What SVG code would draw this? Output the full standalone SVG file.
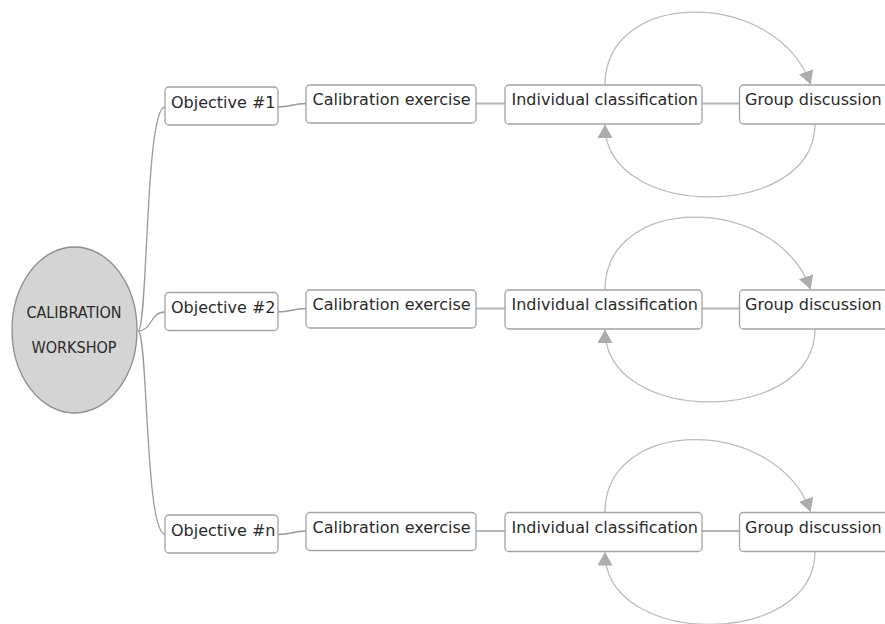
<svg xmlns="http://www.w3.org/2000/svg" width="885" height="624" viewBox="0 0 885 624">
  <style>
    .box { fill: #ffffff; stroke: #a3a3a3; stroke-width: 1.3; }
    .lbl { font-family: "DejaVu Sans", sans-serif; font-size: 16px; fill: #2a2a2a; }
    .root { fill: #d4d4d4; stroke: #8c8c8c; stroke-width: 1.3; }
    .rootlbl { font-family: "DejaVu Sans Condensed", "DejaVu Sans", sans-serif; font-stretch: condensed; font-size: 16px; fill: #2a2a2a; text-anchor: middle; }
    .tree { fill: none; stroke: #9a9a9a; stroke-width: 1.3; }
    .link { fill: none; stroke: #b5b5b5; stroke-width: 2; }
    .loop { fill: none; stroke: #bbbbbb; stroke-width: 1.3; }
  </style>
  <defs>
    <marker id="head" markerUnits="userSpaceOnUse" markerWidth="16" markerHeight="16" refX="13" refY="7.5" orient="auto">
      <path d="M0,0 L13.5,7.5 L0,15 Z" fill="#acacac"/>
    </marker>
  </defs>
  <rect width="885" height="624" fill="#ffffff"/>

  <!-- connectors -->
  <g id="connectors">
    <!-- root to objectives -->
    <path class="tree" d="M138,331 C148,331 145,107 165,107"/>
    <path class="tree" d="M138,331 C152,331 150,312 165,312"/>
    <path class="tree" d="M138,331 C148,331 145,534 165,534"/>
    <!-- row 1 -->
    <g>
      <path class="tree" d="M278,107 C292,107 292,103.5 306,103.5"/>
      <path class="link" d="M476,103.5 L505,103.5"/>
      <path class="link" d="M702,103.5 L739.5,103.5"/>
      <path class="loop" d="M605,85 C605,-12 776,-12 810.5,84" marker-end="url(#head)"/>
      <path class="loop" d="M815,124 C815,221 605,221 605,125" marker-end="url(#head)"/>
    </g>
    <!-- row 2 -->
    <g transform="translate(0,205)">
      <path class="tree" d="M278,107 C292,107 292,103.5 306,103.5"/>
      <path class="link" d="M476,103.5 L505,103.5"/>
      <path class="link" d="M702,103.5 L739.5,103.5"/>
      <path class="loop" d="M605,85 C605,-12 776,-12 810.5,84" marker-end="url(#head)"/>
      <path class="loop" d="M815,124 C815,221 605,221 605,125" marker-end="url(#head)"/>
    </g>
    <!-- row 3 -->
    <g transform="translate(0,427.5)">
      <path class="tree" d="M278,107 C292,107 292,103.5 306,103.5"/>
      <path class="link" d="M476,103.5 L505,103.5"/>
      <path class="link" d="M702,103.5 L739.5,103.5"/>
      <path class="loop" d="M605,85 C605,-12 776,-12 810.5,84" marker-end="url(#head)"/>
      <path class="loop" d="M815,124 C815,221 605,221 605,125" marker-end="url(#head)"/>
    </g>
  </g>

  <!-- root node -->
  <g id="workshop">
    <ellipse class="root" cx="74.5" cy="330" rx="62.5" ry="83"/>
    <text class="rootlbl" x="74" y="318">CALIBRATION</text>
    <text class="rootlbl" x="74" y="353">WORKSHOP</text>
  </g>

  <!-- row 1 -->
  <g id="objective-1">
    <rect class="box" x="165" y="87" width="113" height="38" rx="4"/>
    <text class="lbl" x="171" y="107.5">Objective #1</text>
  </g>
  <g id="exercise-1">
    <rect class="box" x="306" y="85" width="170" height="38" rx="4"/>
    <text class="lbl" x="312.5" y="105">Calibration exercise</text>
  </g>
  <g id="classification-1">
    <rect class="box" x="505" y="85" width="197" height="39" rx="4"/>
    <text class="lbl" x="511.5" y="105">Individual classification</text>
  </g>
  <g id="discussion-1">
    <rect class="box" x="739.5" y="85" width="160" height="39" rx="4"/>
    <text class="lbl" x="745" y="105">Group discussion</text>
  </g>

  <!-- row 2 -->
  <g id="objective-2" transform="translate(0,205.5)">
    <rect class="box" x="165" y="87" width="113" height="38" rx="4"/>
    <text class="lbl" x="171" y="107.5">Objective #2</text>
  </g>
  <g id="exercise-2" transform="translate(0,205)">
    <rect class="box" x="306" y="85" width="170" height="38" rx="4"/>
    <text class="lbl" x="312.5" y="105">Calibration exercise</text>
  </g>
  <g id="classification-2" transform="translate(0,205)">
    <rect class="box" x="505" y="85" width="197" height="39" rx="4"/>
    <text class="lbl" x="511.5" y="105">Individual classification</text>
  </g>
  <g id="discussion-2" transform="translate(0,205)">
    <rect class="box" x="739.5" y="85" width="160" height="39" rx="4"/>
    <text class="lbl" x="745" y="105">Group discussion</text>
  </g>

  <!-- row 3 -->
  <g id="objective-n" transform="translate(0,428)">
    <rect class="box" x="165" y="87" width="113" height="38" rx="4"/>
    <text class="lbl" x="171" y="107.5">Objective #n</text>
  </g>
  <g id="exercise-n" transform="translate(0,427.5)">
    <rect class="box" x="306" y="85" width="170" height="38" rx="4"/>
    <text class="lbl" x="312.5" y="105">Calibration exercise</text>
  </g>
  <g id="classification-n" transform="translate(0,427.5)">
    <rect class="box" x="505" y="85" width="197" height="39" rx="4"/>
    <text class="lbl" x="511.5" y="105">Individual classification</text>
  </g>
  <g id="discussion-n" transform="translate(0,427.5)">
    <rect class="box" x="739.5" y="85" width="160" height="39" rx="4"/>
    <text class="lbl" x="745" y="105">Group discussion</text>
  </g>
</svg>
